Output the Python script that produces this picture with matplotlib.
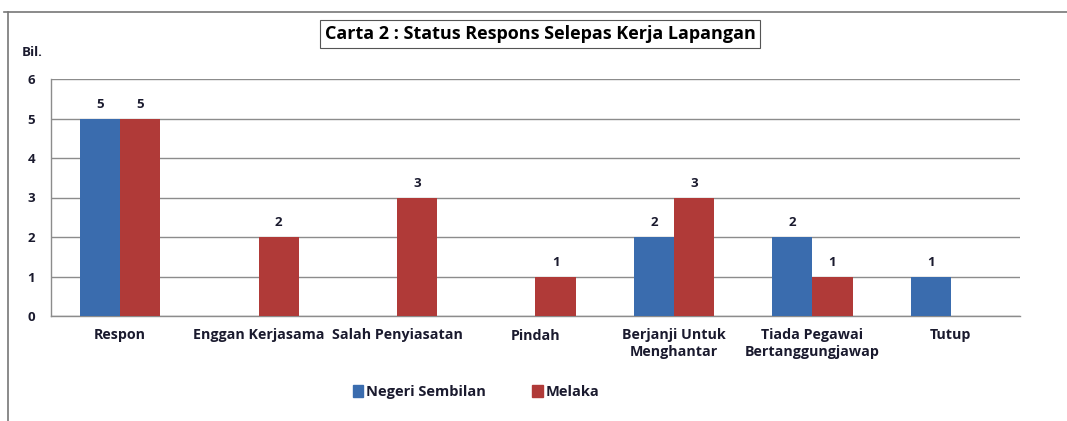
import matplotlib
matplotlib.use("Agg")
import matplotlib.pyplot as plt
import numpy as np
from matplotlib.patches import Rectangle
from matplotlib.lines import Line2D

categories = ["Respon", "Enggan Kerjasama", "Salah Penyiasatan", "Pindah",
              "Berjanji Untuk\nMenghantar", "Tiada Pegawai\nBertanggungjawap", "Tutup"]
negeri_sembilan = [5, 0, 0, 0, 2, 2, 1]
melaka = [5, 2, 3, 1, 3, 1, 0]
series_names = ["Negeri Sembilan", "Melaka"]
yticks = [0, 1, 2, 3, 4, 5, 6]

blue = "#3a6cae"
red = "#b03a38"
txt = "#1a1a2e"

plt.rcParams['font.family'] = ['Open Sans', 'DejaVu Sans']

W, H = 1067, 421
fig = plt.figure(figsize=(W / 100, H / 100), dpi=100)
ax = fig.add_axes([51 / W, 1 - 316 / H, (1020 - 51) / W, (316 - 79) / H])

x = np.arange(len(categories))
bw = 0.29
b1 = ax.bar(x - bw / 2, negeri_sembilan, bw, color=blue, zorder=3)
b2 = ax.bar(x + bw / 2, melaka, bw, color=red, zorder=3)

for bars, vals in ((b1, negeri_sembilan), (b2, melaka)):
    for rect, v in zip(bars, vals):
        if v > 0:
            ax.text(rect.get_x() + rect.get_width() / 2, v + 0.2, str(v),
                    ha="center", va="bottom", fontsize=9.5, fontweight="bold", color=txt)

ax.set_xlim(-0.5, len(categories) - 0.5)
ax.set_ylim(0, 6)
ax.set_yticks(yticks)
ax.set_yticklabels([str(t) for t in yticks], fontsize=9.5, fontweight="bold", color=txt)
ax.set_xticks(x)
ax.set_xticklabels(categories, fontsize=10.3, fontweight="bold", color=txt, linespacing=1.2)
ax.tick_params(axis="x", length=0, pad=9)
ax.tick_params(axis="y", length=0, pad=17)
for lab in ax.get_yticklabels():
    lab.set_horizontalalignment("left")
ax.yaxis.grid(True, color="#8c8c8c", linewidth=1, zorder=0)
ax.set_axisbelow(True)
for s in ("top", "right"):
    ax.spines[s].set_visible(False)
for s in ("left", "bottom"):
    ax.spines[s].set_color("#8c8c8c")
    ax.spines[s].set_linewidth(1)

fig.text(22 / W, 1 - 53 / H, "Bil.", fontsize=9.5, fontweight="bold", color=txt,
         ha="left", va="center")

fig.text(540 / W, 1 - 34 / H, "Carta 2 : Status Respons Selepas Kerja Lapangan",
         fontsize=13, fontweight="bold", color="black", ha="center", va="center",
         bbox=dict(boxstyle="square,pad=0.25", facecolor="white", edgecolor="#555555", linewidth=0.8))

# legend
handles = [Rectangle((0, 0), 1, 1, color=blue), Rectangle((0, 0), 1, 1, color=red)]
fig.legend(handles, series_names, loc="center", bbox_to_anchor=(476 / W, 1 - 392 / H),
           ncol=2, frameon=False, handlelength=0.7, handleheight=0.9,
           handletextpad=0.2, columnspacing=3.2,
           prop=dict(family=['Open Sans', 'DejaVu Sans'], weight="bold", size=10.5))
for t in fig.legends[0].get_texts():
    t.set_color(txt)

# outer frame lines
fig.add_artist(Line2D([4 / W, 1], [1 - 12 / H, 1 - 12 / H], color="#777777", linewidth=1.2))
fig.add_artist(Line2D([8 / W, 8 / W], [1 - 12 / H, 0], color="#777777", linewidth=1.2))

fig.savefig("out.png", dpi=100)
